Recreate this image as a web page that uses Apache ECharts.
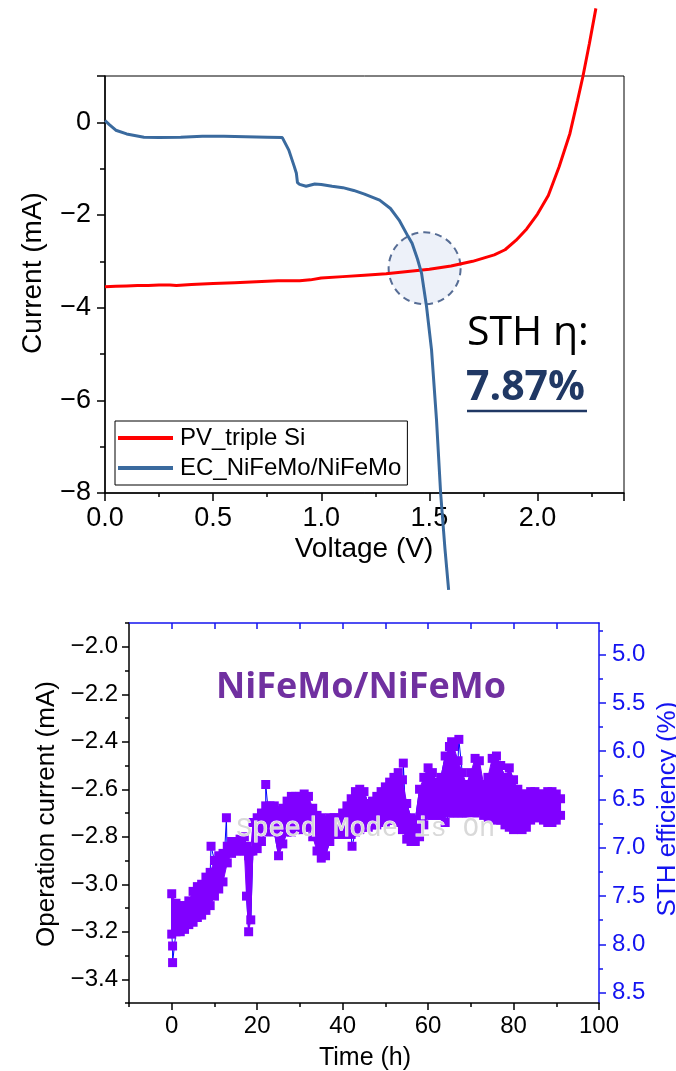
<!DOCTYPE html>
<html><head><meta charset="utf-8">
<script src="https://cdn.jsdelivr.net/npm/echarts@6/dist/echarts.min.js"></script>
<style>html,body{margin:0;padding:0;background:#fff}#c{width:676px;height:1071px}</style>
</head><body><div id="c"></div>
<script>
// ---- Top chart: J-V curves ----
const pvVoltage = [0.00,0.05,0.10,0.15,0.20,0.25,0.30,0.33,0.40,0.50,0.60,0.70,0.80,0.90,0.95,1.00,1.10,1.20,1.30,1.40,1.50,1.60,1.70,1.80,1.85,1.90,1.95,2.00,2.05,2.10,2.15,2.185,2.21,2.24,2.27];
const pvCurrent = [-3.55,-3.54,-3.53,-3.52,-3.52,-3.51,-3.51,-3.52,-3.50,-3.48,-3.46,-3.44,-3.42,-3.42,-3.40,-3.36,-3.33,-3.30,-3.27,-3.22,-3.17,-3.10,-3.00,-2.86,-2.75,-2.55,-2.30,-1.98,-1.58,-0.96,-0.24,0.47,0.99,1.70,2.46];
const ecVoltage = [0.00,0.02,0.05,0.10,0.18,0.25,0.35,0.45,0.55,0.65,0.75,0.82,0.85,0.875,0.885,0.89,0.90,0.93,0.97,1.00,1.05,1.10,1.15,1.20,1.27,1.32,1.36,1.40,1.42,1.445,1.464,1.487,1.51,1.533,1.552,1.572,1.589];
const ecCurrent = [0.04,-0.05,-0.17,-0.25,-0.32,-0.33,-0.32,-0.30,-0.30,-0.31,-0.32,-0.33,-0.60,-0.95,-1.10,-1.30,-1.34,-1.38,-1.33,-1.34,-1.38,-1.41,-1.47,-1.55,-1.68,-1.86,-2.11,-2.45,-2.61,-2.95,-3.26,-3.98,-4.91,-6.42,-8.00,-9.20,-10.09];
const operatingPoint = [1.478, -3.15];
const seriesNames = ['PV_triple Si', 'EC_NiFeMo/NiFeMo'];

// ---- Bottom chart: stability ----
const stabHours = [0,1,2,3,4,5,6,7,8,9,10,11,12,13,14,15,16,17,17.5,18,18.5,19,20,21,22,23,24,25,26,27,28,29,30,31,32,33,34,35,36,37,38,39,40,41,42,43,44,45,46,47,48,49,50,51,52,53,54,55,56,57,58,59,60,61,62,63,64,65,66,67,68,69,70,71,72,73,74,75,76,77,78,79,80,81,82,83,84,85,86,87,88,89,90,91];
const stabUpper = [-3.04,-3.08,-3.09,-3.09,-3.07,-3.03,-3.01,-3.00,-2.97,-2.95,-2.90,-2.88,-2.87,-2.84,-2.82,-2.82,-2.81,-2.80,-2.84,-2.88,-2.86,-2.74,-2.72,-2.70,-2.67,-2.67,-2.67,-2.69,-2.68,-2.65,-2.63,-2.63,-2.63,-2.62,-2.63,-2.68,-2.71,-2.72,-2.73,-2.72,-2.72,-2.72,-2.70,-2.67,-2.64,-2.61,-2.60,-2.61,-2.66,-2.65,-2.63,-2.61,-2.59,-2.57,-2.55,-2.53,-2.56,-2.66,-2.72,-2.73,-2.60,-2.55,-2.51,-2.53,-2.57,-2.55,-2.46,-2.42,-2.42,-2.48,-2.53,-2.58,-2.53,-2.47,-2.48,-2.58,-2.55,-2.47,-2.46,-2.50,-2.55,-2.51,-2.56,-2.60,-2.62,-2.62,-2.61,-2.61,-2.62,-2.62,-2.61,-2.61,-2.62,-2.64];
const stabLower = [-3.21,-3.20,-3.20,-3.19,-3.17,-3.16,-3.14,-3.13,-3.11,-3.09,-3.05,-3.02,-2.99,-2.91,-2.87,-2.86,-2.86,-2.86,-3.05,-3.20,-3.15,-2.86,-2.85,-2.82,-2.78,-2.77,-2.78,-2.88,-2.83,-2.78,-2.78,-2.77,-2.77,-2.76,-2.76,-2.80,-2.86,-2.89,-2.88,-2.82,-2.79,-2.79,-2.79,-2.79,-2.79,-2.78,-2.77,-2.76,-2.76,-2.75,-2.75,-2.74,-2.74,-2.73,-2.73,-2.74,-2.77,-2.81,-2.82,-2.82,-2.80,-2.75,-2.71,-2.71,-2.71,-2.71,-2.70,-2.70,-2.70,-2.70,-2.70,-2.70,-2.69,-2.70,-2.69,-2.71,-2.72,-2.72,-2.73,-2.73,-2.75,-2.76,-2.77,-2.76,-2.77,-2.76,-2.73,-2.72,-2.72,-2.73,-2.74,-2.74,-2.73,-2.71];
const outlierHours = [0.2,0.2,9.2,12.8,22,42.2,54.2,64,65.5,67.2];
const outlierCurrent = [-3.26,-3.33,-2.84,-2.72,-2.58,-2.84,-2.49,-2.74,-2.40,-2.39];

// ---- tick values ----
const currentMajorTicks = [-3.4,-3.2,-3.0,-2.8,-2.6,-2.4,-2.2,-2.0];
const currentMinorTicks = [-3.5,-3.3,-3.1,-2.9,-2.7,-2.5,-2.3,-2.1,-1.9];
const sthMajorTicks = [5.0,5.5,6.0,6.5,7.0,7.5,8.0,8.5];
const sthMinorTicks = [4.75,5.25,5.75,6.25,6.75,7.25,7.75,8.25];
const timeMajorTicks = [0,20,40,60,80,100];
const timeMinorTicks = [-10,10,30,50,70,90];
const timeTopTicks = [0,10,20,30,40,50,60,70,80,90];
const sthPerMilliamp = 7.87 / 3.2;   // STH (%) per mA of operating current

const FONT = 'Liberation Sans, Arial, sans-serif';
const PURPLE = '#8000ff';
const BLUE = '#1414f0';
const minus = v => (v < 0 ? '\u2212' : '') + Math.abs(v);
const minus1 = v => (v < -1e-9 ? '\u2212' : '') + Math.abs(v).toFixed(1);

// readings: envelope points zigzag + outliers, sorted by time
const readings = [];
stabHours.forEach((h, i) => {
  if (i % 2 === 0) { readings.push([h, stabUpper[i]], [h, stabLower[i]]); }
  else { readings.push([h, stabLower[i]], [h, stabUpper[i]]); }
});
outlierHours.forEach((h, i) => readings.push([h, outlierCurrent[i]]));
readings.sort((a, b) => a[0] - b[0]);

const chart = echarts.init(document.getElementById('c'), null, {renderer: 'canvas'});
const blackLine = {show: true, onZero: false, lineStyle: {color: '#000', width: 1.5}};

chart.setOption({
  animation: false,
  backgroundColor: '#fff',
  textStyle: {fontFamily: FONT},
  grid: [
    {left: 105, top: 76, width: 519, height: 417, show: true, borderColor: '#000', borderWidth: 1, backgroundColor: 'transparent'},
    {left: 129, top: 623, width: 470, height: 380}
  ],
  legend: {
    data: seriesNames, orient: 'vertical', left: 115, top: 421,
    icon: 'rect', itemWidth: 55, itemHeight: 4, itemGap: 6, padding: [5, 6, 5, 3],
    borderColor: '#000', borderWidth: 1, backgroundColor: '#fff',
    textStyle: {fontFamily: FONT, fontSize: 24, color: '#000', padding: [0, 0, 0, 2]}
  },
  xAxis: [
    {gridIndex: 0, type: 'value', min: 0, max: 2.4, interval: 0.5, axisLine: blackLine,
     axisTick: {show: true, length: 8, lineStyle: {color: '#000', width: 1.5}},
     minorTick: {show: true, splitNumber: 2, length: 4, lineStyle: {color: '#000', width: 1.5}},
     axisLabel: {formatter: v => v.toFixed(1), showMaxLabel: false, fontSize: 27, color: '#000', margin: 12, fontFamily: FONT},
     splitLine: {show: false}},
    {gridIndex: 1, type: 'value', min: -10, max: 100, position: 'bottom', axisLine: blackLine,
     axisTick: {show: true, length: 7, customValues: timeMajorTicks, lineStyle: {color: '#000', width: 1.5}},
     axisLabel: {customValues: timeMajorTicks, fontSize: 24, color: '#000', margin: 11, fontFamily: FONT},
     splitLine: {show: false}},
    {gridIndex: 1, type: 'value', min: -10, max: 100, position: 'bottom', axisLine: {show: false, onZero: false},
     axisTick: {show: true, length: 4, customValues: timeMinorTicks, lineStyle: {color: '#000', width: 1.5}},
     axisLabel: {show: false}, splitLine: {show: false}},
    {gridIndex: 1, type: 'value', min: -10, max: 100, position: 'top',
     axisLine: {show: true, onZero: false, lineStyle: {color: BLUE, width: 1.5}},
     axisTick: {show: true, inside: true, length: 6, customValues: timeTopTicks, lineStyle: {color: BLUE, width: 1.5}},
     axisLabel: {show: false}, splitLine: {show: false}}
  ],
  yAxis: [
    {gridIndex: 0, type: 'value', min: -8, max: 1, interval: 2, axisLine: blackLine,
     axisTick: {show: true, length: 8, lineStyle: {color: '#000', width: 1.5}},
     minorTick: {show: true, splitNumber: 2, length: 5, lineStyle: {color: '#000', width: 1.5}},
     axisLabel: {formatter: minus, showMaxLabel: false, fontSize: 27, color: '#000', margin: 14, fontFamily: FONT},
     splitLine: {show: false}},
    {gridIndex: 1, type: 'value', min: -3.5, max: -1.9, position: 'left', axisLine: blackLine,
     axisTick: {show: true, length: 7, customValues: currentMajorTicks, lineStyle: {color: '#000', width: 1.5}},
     axisLabel: {customValues: currentMajorTicks, formatter: minus1, fontSize: 24, color: '#000', margin: 11, fontFamily: FONT},
     splitLine: {show: false}},
    {gridIndex: 1, type: 'value', min: -3.5, max: -1.9, position: 'left', axisLine: {show: false, onZero: false},
     axisTick: {show: true, length: 4, customValues: currentMinorTicks, lineStyle: {color: '#000', width: 1.5}},
     axisLabel: {show: false}, splitLine: {show: false}},
    {gridIndex: 1, type: 'value', inverse: true, min: 1.9 * sthPerMilliamp, max: 3.5 * sthPerMilliamp, position: 'right',
     axisLine: {show: true, onZero: false, lineStyle: {color: BLUE, width: 1.5}},
     axisTick: {show: true, length: 7, customValues: sthMajorTicks, lineStyle: {color: BLUE, width: 1.5}},
     axisLabel: {customValues: sthMajorTicks, formatter: v => v.toFixed(1), fontSize: 24, color: BLUE, margin: 13, fontFamily: FONT},
     splitLine: {show: false}},
    {gridIndex: 1, type: 'value', inverse: true, min: 1.9 * sthPerMilliamp, max: 3.5 * sthPerMilliamp, position: 'right',
     axisLine: {show: false, onZero: false},
     axisTick: {show: true, length: 4, customValues: sthMinorTicks, lineStyle: {color: BLUE, width: 1.5}},
     axisLabel: {show: false}, splitLine: {show: false}}
  ],
  series: [
    {name: seriesNames[0], type: 'line', xAxisIndex: 0, yAxisIndex: 0, clip: false, symbol: 'none', z: 4,
     data: pvVoltage.map((v, i) => [v, pvCurrent[i]]), lineStyle: {color: '#ff0000', width: 3}, itemStyle: {color: '#ff0000'}},
    {name: seriesNames[1], type: 'line', xAxisIndex: 0, yAxisIndex: 0, clip: false, symbol: 'none', z: 4,
     data: ecVoltage.map((v, i) => [v, ecCurrent[i]]), lineStyle: {color: '#3a6a9e', width: 3}, itemStyle: {color: '#3a6a9e'}},
    {name: 'operating point', type: 'scatter', xAxisIndex: 0, yAxisIndex: 0, clip: false, z: 1, silent: true,
     symbol: 'circle', symbolSize: 72, data: [operatingPoint],
     itemStyle: {color: '#e9eef8', borderColor: '#2e4a7a', borderWidth: 2, borderType: [7, 5]}},
    {name: 'link', type: 'line', xAxisIndex: 1, yAxisIndex: 1, symbol: 'none', z: 1, silent: true,
     data: readings, lineStyle: {color: '#0000ff', width: 1}},
    {name: 'band', type: 'custom', coordinateSystem: 'cartesian2d', xAxisIndex: 1, yAxisIndex: 1, z: 2, silent: true,
     data: [[stabHours[0], stabUpper[0]]],
     renderItem: (params, api) => {
       const top = stabHours.map((h, i) => api.coord([h, stabUpper[i]]));
       const bottom = stabHours.map((h, i) => api.coord([h, stabLower[i]])).reverse();
       return {type: 'polygon', shape: {points: top.concat(bottom)}, style: {fill: PURPLE, stroke: PURPLE, lineWidth: 1}};
     }},
    {name: 'readings', type: 'scatter', xAxisIndex: 1, yAxisIndex: 1, symbol: 'rect', symbolSize: 9, z: 3, silent: true,
     data: readings, itemStyle: {color: PURPLE, opacity: 1}}
  ],
  graphic: [
    {type: 'text', x: 33, y: 273, rotation: Math.PI / 2, z: 10,
     style: {text: 'Current (mA)', font: '28px ' + FONT, fill: '#000', align: 'center', verticalAlign: 'middle', textAlign: 'center', textVerticalAlign: 'middle'}},
    {type: 'text', x: 364, y: 549, z: 10,
     style: {text: 'Voltage (V)', font: '28px ' + FONT, fill: '#000', align: 'center', verticalAlign: 'middle', textAlign: 'center', textVerticalAlign: 'middle'}},
    {type: 'text', x: 467, y: 333, z: 10,
     style: {text: 'STH \u03b7:', font: '41px "Open Sans", sans-serif', fill: '#000', align: 'left', verticalAlign: 'middle', textAlign: 'left', textVerticalAlign: 'middle'}},
    {type: 'text', x: 466, y: 388, z: 10,
     style: {text: '7.87%', font: 'bold 41px "Open Sans", sans-serif', fill: '#203864', align: 'left', verticalAlign: 'middle', textAlign: 'left', textVerticalAlign: 'middle'}},
    {type: 'line', z: 10, shape: {x1: 467, y1: 411, x2: 587, y2: 411}, style: {stroke: '#203864', lineWidth: 2.5}},
    {type: 'text', x: 361, y: 688, z: 10,
     style: {text: 'NiFeMo/NiFeMo', font: 'bold 36px "Open Sans", sans-serif', fill: '#7030a0', align: 'center', verticalAlign: 'middle', textAlign: 'center', textVerticalAlign: 'middle'}},
    {type: 'text', x: 236, y: 829, z: 20,
     style: {text: 'Speed Mode is On', fontFamily: 'Liberation Mono', fontSize: 27, fill: '#d9d9d9', stroke: '#ffffff', lineWidth: 1, align: 'left', verticalAlign: 'middle', textAlign: 'left', textVerticalAlign: 'middle'}},
    {type: 'text', x: 47, y: 814, rotation: Math.PI / 2, z: 10,
     style: {text: 'Operation current (mA)', font: '26px ' + FONT, fill: '#000', align: 'center', verticalAlign: 'middle', textAlign: 'center', textVerticalAlign: 'middle'}},
    {type: 'text', x: 668, y: 809, rotation: Math.PI / 2, z: 10,
     style: {text: 'STH efficiency (%)', font: '26px ' + FONT, fill: BLUE, align: 'center', verticalAlign: 'middle', textAlign: 'center', textVerticalAlign: 'middle'}},
    {type: 'text', x: 365, y: 1058, z: 10,
     style: {text: 'Time (h)', font: '25px ' + FONT, fill: '#000', align: 'center', verticalAlign: 'middle', textAlign: 'center', textVerticalAlign: 'middle'}}
  ]
});
</script>
</body></html>
